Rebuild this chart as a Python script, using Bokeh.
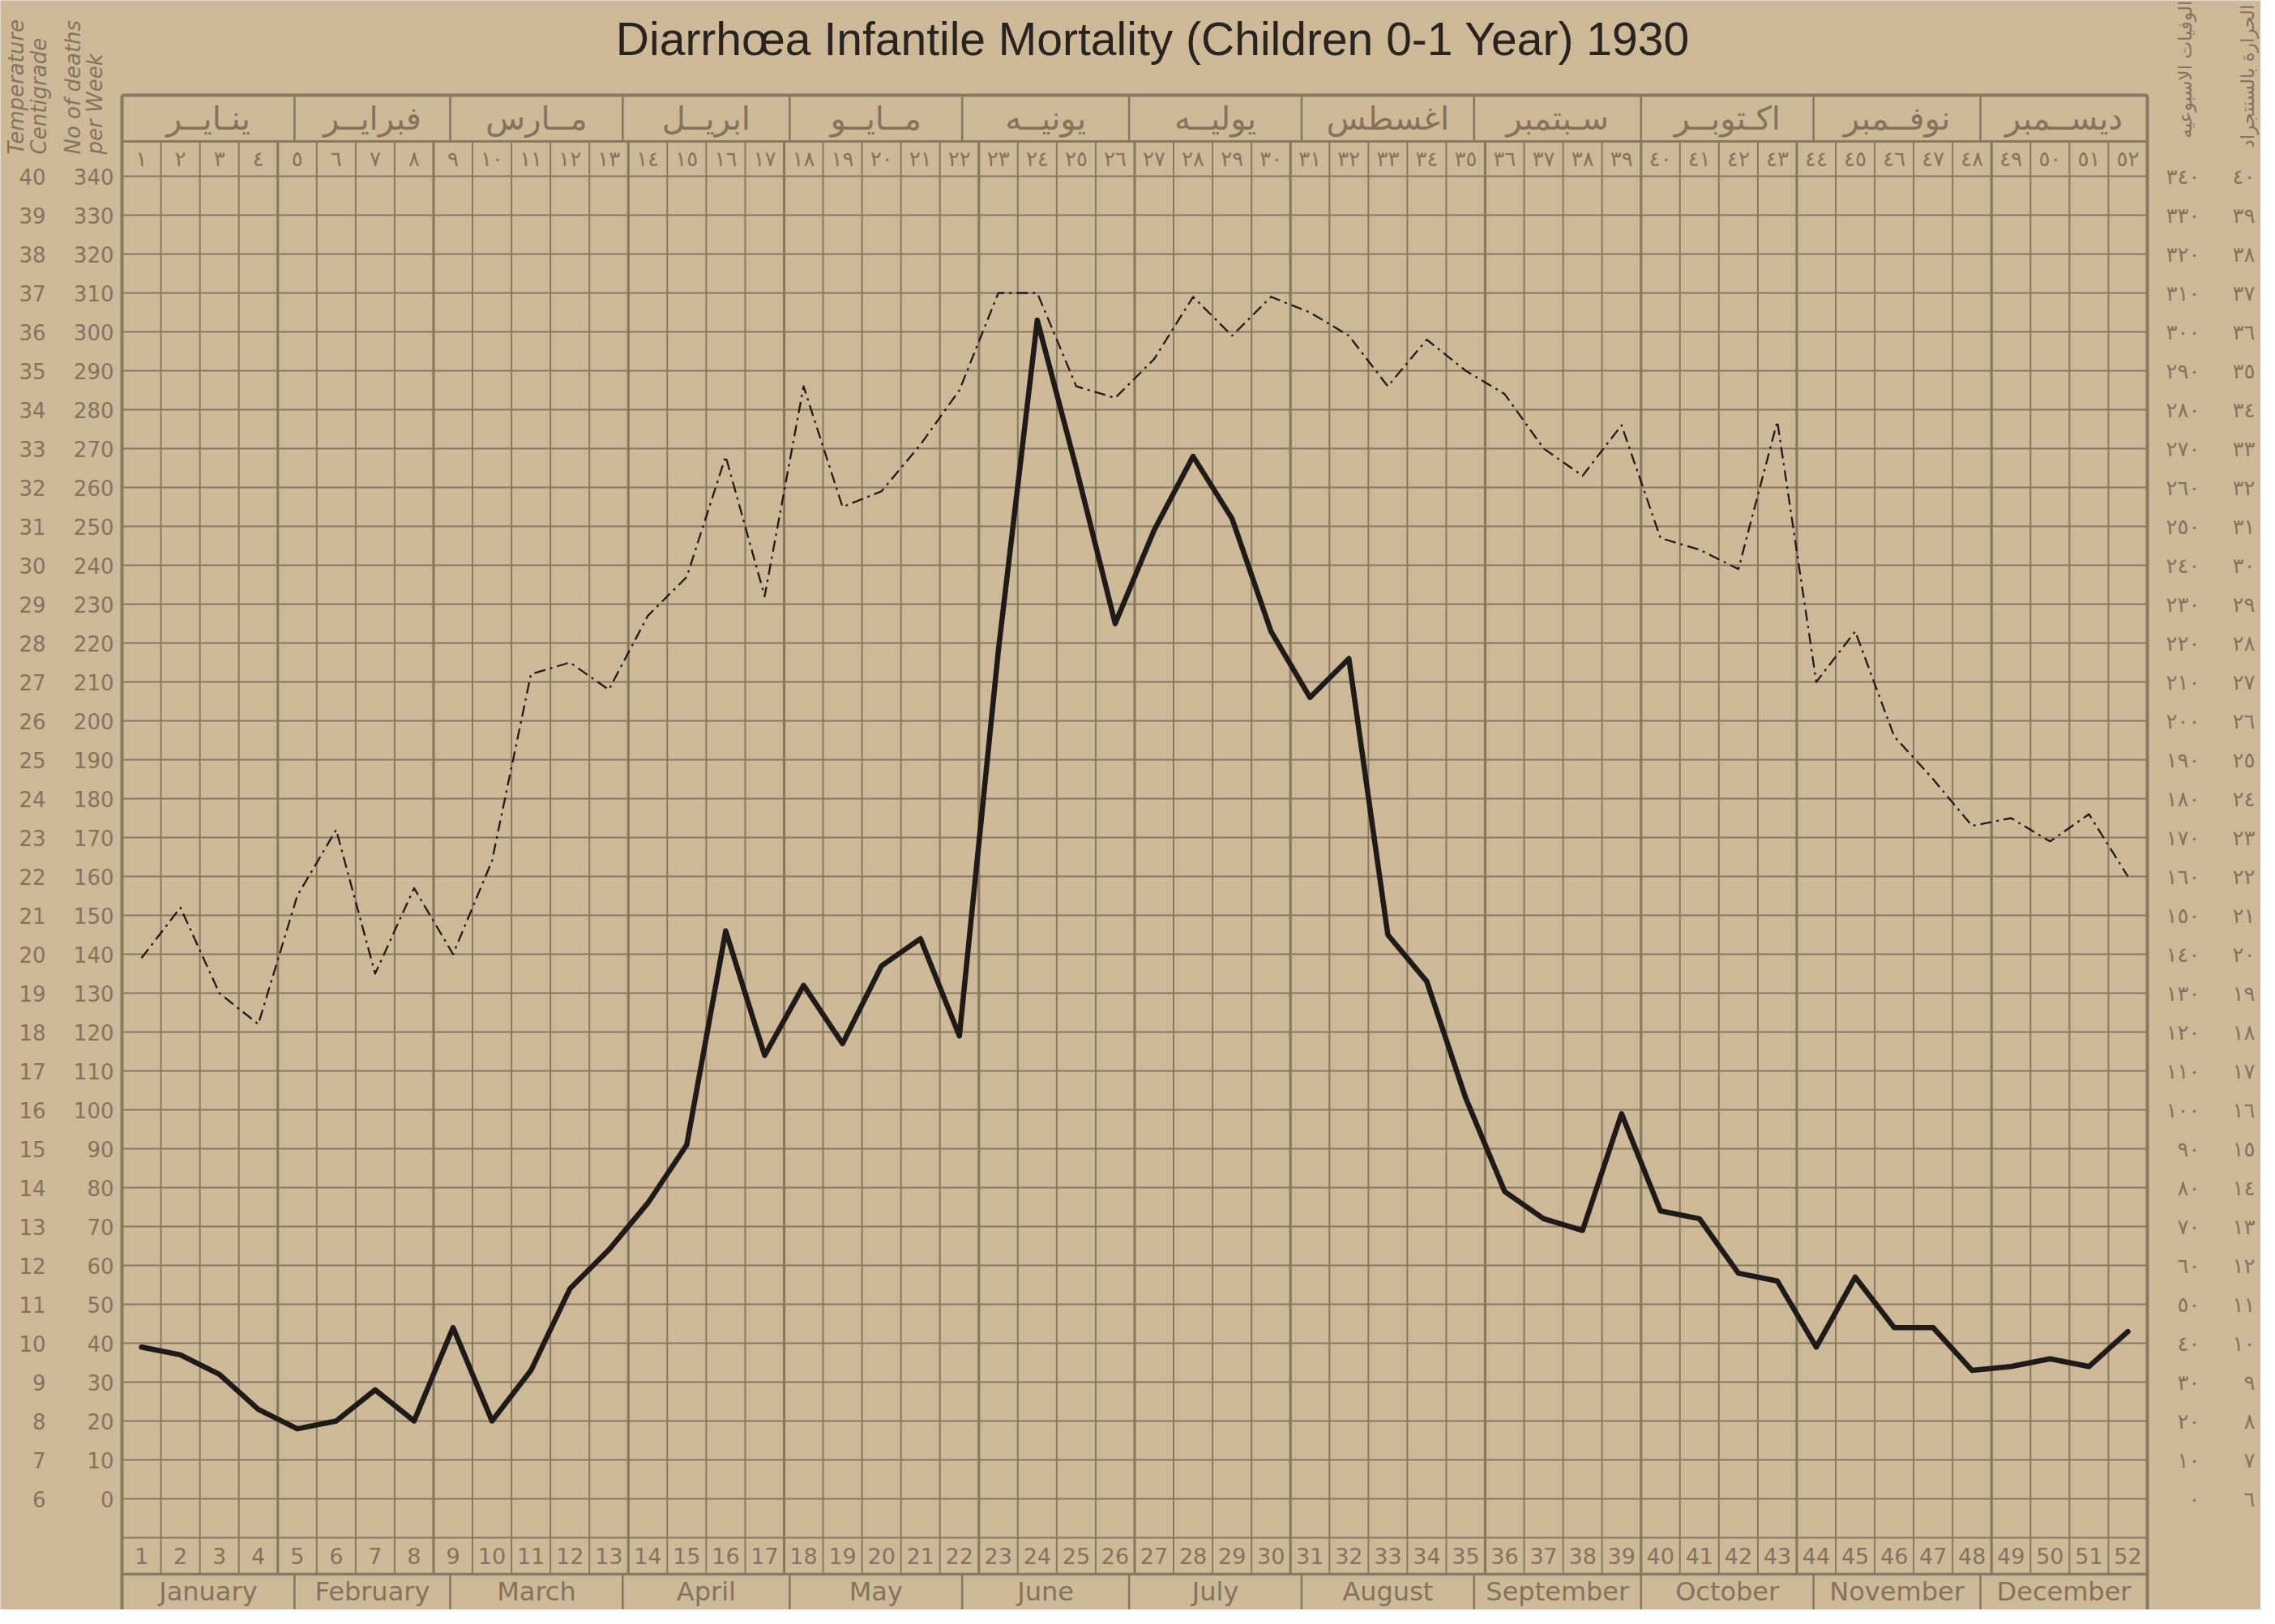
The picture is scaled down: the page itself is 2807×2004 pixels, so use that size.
import math
from bokeh.plotting import figure
from bokeh.models import Range1d
from bokeh.core.properties import value
from bokeh.embed import file_html
from bokeh.resources import INLINE

# ---------------- data ----------------
weeks = list(range(1, 53))
deaths = [39, 37, 32, 23, 18, 20, 28, 20, 44, 20, 33, 54, 64, 76, 91, 146, 114, 132,
          117, 137, 144, 119, 218, 303, 265, 225, 249, 268, 252, 223, 206, 216, 145, 133, 103,
          79, 72, 69, 99, 74, 72, 58, 56, 39, 57, 44, 44, 33, 34, 36, 34, 43]
temperature = [19.9, 21.2, 19.0, 18.2, 21.5, 23.2, 19.5, 21.7, 20.0, 22.4, 27.2, 27.5, 26.8, 28.7, 29.7, 32.8, 29.2, 34.6,
               31.5, 31.9, 33.1, 34.5, 37.0, 37.0, 34.6, 34.3, 35.3, 36.9, 35.9, 36.9, 36.5, 35.9, 34.6, 35.8, 35.0,
               34.4, 33.0, 32.3, 33.6, 30.7, 30.4, 29.9, 33.7, 27.0, 28.3, 25.6, 24.5, 23.3, 23.5, 22.9, 23.6, 22.0]
months_en = ["January", "February", "March", "April", "May", "June", "July",
             "August", "September", "October", "November", "December"]
months_ar = ["ينـايــر", "فبرايــر", "مــارس", "ابريــل", "مــايــو", "يونيــه", "يوليــه",
             "اغسطس", "سـبتمبر", "اكـتوبــر", "نوفــمبر", "ديســمبر"]
month_days = [31, 28, 31, 30, 31, 30, 31, 31, 30, 31, 30, 31]
death_ticks = list(range(0, 341, 10))
temp_ticks = list(range(6, 41))
title_text = "Diarrhœa Infantile Mortality (Children 0-1 Year) 1930"
caption_en = ["Temperature", "Centigrade", "No of deaths", "per Week"]
caption_ar = ["الوفيات الاسبوعيه", "الحرارة بالسنتجراد"]

AR = str.maketrans("0123456789", "٠١٢٣٤٥٦٧٨٩")
def to_ar(n):
    return str(n).translate(AR)

# ---------------- layout (page pixel -> data helpers) ----------------
W, H = 2789, 1986
X0P, X1P = 158.0, 2657.0          # page px of the left / right frame of the grid
PXW = (X1P - X0P) / 52.0
Y0P, PXU = 1857.0, 4.8            # page px of value 0, px per death unit
def xd(px):
    return 0.5 + (px - X0P) / PXW
def yd(py):
    return (Y0P - py) / PXU

Y_TOP = yd(8)
Y_BOT = yd(8 + H)
HEAD_TOP = yd(125)
HEAD_MID = yd(182)
FOOT_MID = yd(1950)

BG = "#cdb998"
GRID = "#8a775f"
INK = "#85725b"
LINE = "#1f1b18"
FONT = value("DejaVu Sans")

p = figure(width=W, height=H, x_range=Range1d(xd(8), xd(8 + W)), y_range=Range1d(Y_BOT, Y_TOP),
           output_backend="svg", toolbar_location=None,
           x_axis_location=None, y_axis_location=None,
           min_border_left=0, min_border_right=0, min_border_top=0, min_border_bottom=0,
           background_fill_color=BG, border_fill_color=BG, outline_line_color=None)
p.xgrid.visible = False
p.ygrid.visible = False
p.extra_y_ranges = {"temp": Range1d(Y_BOT / 10 + 6, Y_TOP / 10 + 6)}

# month boundaries (in weeks)
cum = []
s = 0
for d in month_days:
    s += d
    cum.append(s / 7.0)
month_edges = [0.5] + [0.5 + c for c in cum[:-1]] + [52.5]
month_centers = [(a + b) / 2 for a, b in zip(month_edges[:-1], month_edges[1:])]
thick_k = set(int(round(c)) for c in cum[:-1])

# horizontal grid lines
hy = [-10] + death_ticks
p.segment(x0=[0.5] * len(hy), x1=[52.5] * len(hy), y0=hy, y1=hy, line_color=GRID, line_width=2)
# vertical week lines
thin_x = [0.5 + k for k in range(1, 52) if k not in thick_k]
thick_x = [0.5 + k for k in range(1, 52) if k in thick_k]
p.segment(x0=thin_x, x1=thin_x, y0=FOOT_MID, y1=HEAD_MID, line_color=GRID, line_width=2)
p.segment(x0=thick_x, x1=thick_x, y0=FOOT_MID, y1=HEAD_MID, line_color=GRID, line_width=3.2)
# month dividers in header / footer rows
mx = month_edges[1:-1]
p.segment(x0=mx, x1=mx, y0=HEAD_MID, y1=HEAD_TOP, line_color=GRID, line_width=2.6)
p.segment(x0=mx, x1=mx, y0=Y_BOT, y1=FOOT_MID, line_color=GRID, line_width=2.6)
# frame
p.segment(x0=[0.5, 52.5], x1=[0.5, 52.5], y0=[Y_BOT, Y_BOT], y1=[HEAD_TOP, HEAD_TOP],
          line_color=GRID, line_width=4)
p.segment(x0=[0.5, 0.5, 0.5], x1=[52.5, 52.5, 52.5], y0=[HEAD_TOP, HEAD_MID, FOOT_MID],
          y1=[HEAD_TOP, HEAD_MID, FOOT_MID], line_color=GRID, line_width=[4, 3, 3.5])

# header / footer texts
p.text(x=weeks, y=[(340 + HEAD_MID) / 2] * 52, text=[to_ar(w) for w in weeks],
       text_font=FONT, text_font_size="26px", text_color=INK,
       text_align="center", text_baseline="middle")
p.text(x=weeks, y=[(-10 + FOOT_MID) / 2] * 52, text=[str(w) for w in weeks],
       text_font=FONT, text_font_size="27px", text_color=INK,
       text_align="center", text_baseline="middle")
p.text(x=month_centers, y=[(HEAD_MID + HEAD_TOP) / 2] * 12, text=months_ar,
       text_font=FONT, text_font_size="40px", text_color=INK,
       text_align="center", text_baseline="middle")
p.text(x=month_centers, y=[yd(1971)] * 12, text=months_en,
       text_font=FONT, text_font_size="32px", text_color=INK,
       text_align="center", text_baseline="middle")

# tick labels (left: temperature, deaths; right: deaths, temperature in Arabic-Indic digits)
n = len(death_ticks)
p.text(x=[xd(148)] * n, y=death_ticks, text=[str(t) for t in death_ticks],
       text_font=FONT, text_font_size="26px", text_color=INK,
       text_align="right", text_baseline="middle")
p.text(x=[xd(64)] * len(temp_ticks), y=temp_ticks, y_range_name="temp",
       text=[str(t) for t in temp_ticks],
       text_font=FONT, text_font_size="26px", text_color=INK,
       text_align="right", text_baseline="middle")
p.text(x=[xd(2722)] * n, y=death_ticks, text=[to_ar(t) for t in death_ticks],
       text_font=FONT, text_font_size="26px", text_color=INK,
       text_align="right", text_baseline="middle")
p.text(x=[xd(2790)] * len(temp_ticks), y=temp_ticks, y_range_name="temp",
       text=[to_ar(t) for t in temp_ticks],
       text_font=FONT, text_font_size="26px", text_color=INK,
       text_align="right", text_baseline="middle")

# series
p.line(weeks, temperature, y_range_name="temp", line_color=LINE, line_width=2.3,
       line_dash="14 6 3 6", line_join="round")
p.line(weeks, deaths, line_color=LINE, line_width=6.5, line_join="round", line_cap="round")

# title and corner captions
p.text(x=[xd(1430)], y=[yd(55)], text=[title_text], text_font=value("Liberation Sans"),
       text_font_size="57px", text_color="#2a2420",
       text_align="center", text_baseline="alphabetic")
p.text(x=[xd(27), xd(55), xd(97), xd(124)], y=[yd(198)] * 4, text=caption_en,
       angle=math.pi / 2, text_font=FONT, text_font_style="italic",
       text_font_size="26px", text_color=INK, text_align="left", text_baseline="middle")
p.text(x=[xd(2703), xd(2780)], y=[yd(178), yd(190)], text=caption_ar,
       angle=math.pi / 2, text_font=FONT, text_font_size="23px", text_color=INK,
       text_align="left", text_baseline="middle")

open("out.html", "w").write(file_html(p, INLINE))
